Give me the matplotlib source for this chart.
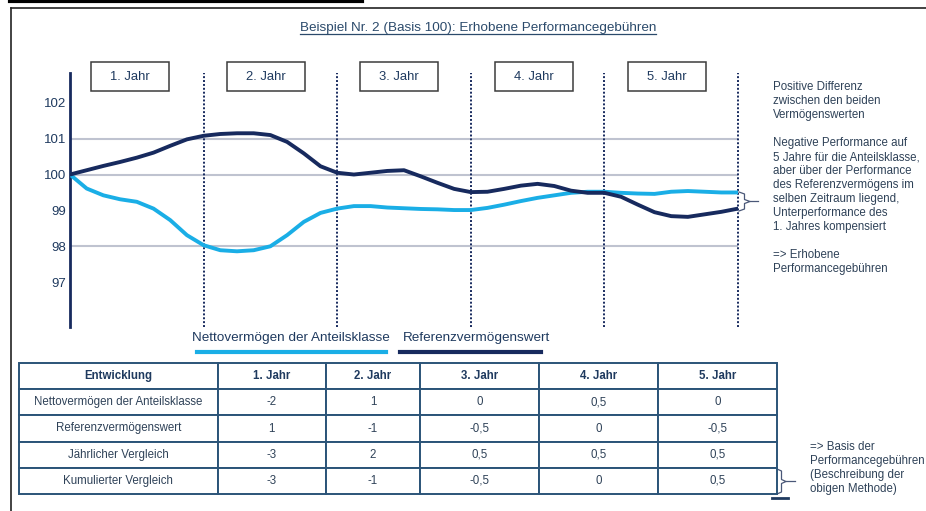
import numpy as np
import matplotlib.pyplot as plt
from matplotlib.patches import Rectangle
from matplotlib.lines import Line2D

plt.rcParams['font.family'] = ['Liberation Sans', 'DejaVu Sans']

# Data (basis 100), every 1/8 year
years = [0, 0.125, 0.25, 0.375, 0.5, 0.625, 0.75, 0.875,
         1, 1.125, 1.25, 1.375, 1.5, 1.625, 1.75, 1.875,
         2, 2.125, 2.25, 2.375, 2.5, 2.625, 2.75, 2.875,
         3, 3.125, 3.25, 3.375, 3.5, 3.625, 3.75, 3.875,
         4, 4.125, 4.25, 4.375, 4.5, 4.625, 4.75, 4.875, 5]
netto = [100.0, 99.61, 99.42, 99.31, 99.24, 99.05, 98.73, 98.31,
         98.03, 97.89, 97.86, 97.89, 98.0, 98.31, 98.68, 98.93,
         99.05, 99.12, 99.12, 99.08, 99.06, 99.04, 99.03, 99.01,
         99.01, 99.07, 99.16, 99.26, 99.35, 99.42, 99.49, 99.52,
         99.52, 99.49, 99.47, 99.46, 99.52, 99.54, 99.52, 99.5, 99.5]
referenz = [100.0, 100.12, 100.24, 100.35, 100.47, 100.61, 100.8, 100.98,
            101.08, 101.13, 101.15, 101.15, 101.1, 100.91, 100.59, 100.23,
            100.05, 100.0, 100.05, 100.1, 100.12, 99.95, 99.77, 99.6,
            99.51, 99.52, 99.6, 99.69, 99.74, 99.68, 99.55, 99.49,
            99.49, 99.38, 99.16, 98.95, 98.84, 98.82, 98.89, 98.96, 99.05]
year_labels = ["1. Jahr", "2. Jahr", "3. Jahr", "4. Jahr", "5. Jahr"]
y_ticks = [97, 98, 99, 100, 101, 102]
grid_levels = [98, 100, 101]

title = "Beispiel Nr. 2 (Basis 100): Erhobene Performancegebühren"
legend_labels = ["Nettovermögen der Anteilsklasse", "Referenzvermögenswert"]

note_right = ["Positive Differenz", "zwischen den beiden", "Vermögenswerten", "",
              "Negative Performance auf", "5 Jahre für die Anteilsklasse,",
              "aber über der Performance", "des Referenzvermögens im",
              "selben Zeitraum liegend,", "Unterperformance des",
              "1. Jahres kompensiert", "", "=> Erhobene", "Performancegebühren"]
note_table = ["=> Basis der", "Performancegebühren", "(Beschreibung der", "obigen Methode)"]

table_header = ["Entwicklung"] + year_labels
table_rows = [
    ["Nettovermögen der Anteilsklasse", "-2", "1", "0", "0,5", "0"],
    ["Referenzvermögenswert", "1", "-1", "-0,5", "0", "-0,5"],
    ["Jährlicher Vergleich", "-3", "2", "0,5", "0,5", "0,5"],
    ["Kumulierter Vergleich", "-3", "-1", "-0,5", "0", "0,5"],
]

# colours
c_light = "#1aaee6"
c_dark = "#172a5e"
c_grid = "#bfc3d0"
c_text = "#2f4258"
c_navy = "#1f3a5f"
c_table = "#2b5478"

W, H = 926, 511
fig = plt.figure(figsize=(W / 100, H / 100), dpi=100)

# overlay in pixel coordinates for frame, notes and boxes
ov = fig.add_axes([0, 0, 1, 1])
ov.set_xlim(0, W)
ov.set_ylim(H, 0)
ov.axis("off")

# frame
ov.add_line(Line2D([10, 362], [1, 1], color="black", lw=3))
ov.add_line(Line2D([11, W], [8, 8], color="#222222", lw=1.2))
ov.add_line(Line2D([11, 11], [8, H], color="#222222", lw=1.2))

# title with underline
t = ov.text(478, 28, title, ha="center", va="center", fontsize=9.7, color="#2b4a6b")
fig.canvas.draw()
bb = t.get_window_extent().transformed(ov.transData.inverted())
ov.add_line(Line2D([bb.x0, bb.x1], [bb.y0 + 0.5, bb.y0 + 0.5], color="#2b4a6b", lw=0.9))

# main chart
ax = fig.add_axes([70 / W, 1 - 327 / H, (738 - 70) / W, (327 - 73) / H])
ax.set_xlim(0, 5)
ax.set_ylim(95.75, 102.83)
for lv in grid_levels:
    ax.axhline(lv, color=c_grid, lw=1.5, zorder=1)
for x in range(1, 6):
    ax.axvline(x, color=c_dark, lw=1.4, ls=(0, (1, 1)), zorder=1, clip_on=False)
ax.plot(years, netto, color=c_light, lw=2.8, solid_joinstyle="round",
        solid_capstyle="round", zorder=3)
ax.plot(years, referenz, color=c_dark, lw=2.8, solid_joinstyle="round",
        solid_capstyle="round", zorder=4)

for side in ["top", "right", "bottom"]:
    ax.spines[side].set_visible(False)
ax.spines["left"].set_color(c_dark)
ax.spines["left"].set_linewidth(2)
ax.set_xticks([])
ax.set_yticks(y_ticks)
ax.tick_params(axis="y", length=0, pad=3, labelsize=9.5, labelcolor=c_navy)
ax.patch.set_alpha(0)

# year boxes
box_cx = [130, 265.5, 399, 533.5, 667]
for cx, lab in zip(box_cx, year_labels):
    ov.add_patch(Rectangle((cx - 39, 62), 78, 29, fill=False, ec="#3c3c3c", lw=1.1))
    ov.text(cx, 76.5, lab, ha="center", va="center", fontsize=9.4, color=c_navy)


def brace(x, y0, y1, w, tip, color):
    ym = (y0 + y1) / 2
    xs = [x, x + w * 0.5, x + w * 0.5, x + w, x + w * 0.5, x + w * 0.5, x]
    ys = [y0, y0 + 2, ym - 2, ym, ym + 2, y1 - 2, y1]
    ov.add_line(Line2D(xs, ys, color=color, lw=0.9))
    ov.add_line(Line2D([x + w, x + tip], [ym, ym], color=color, lw=0.9))


brace(739, 192, 211, 11, 19, "#4a5878")

for i, line in enumerate(note_right):
    if line:
        ov.text(773, 87 + 14 * i, line, ha="left", va="center", fontsize=8.3, color=c_text)

# legend
ov.text(291, 338, legend_labels[0], ha="center", va="center", fontsize=9.7, color=c_navy)
ov.text(477, 338, legend_labels[1], ha="center", va="center", fontsize=9.7, color=c_navy)
ov.add_line(Line2D([197, 386], [352, 352], color=c_light, lw=3))
ov.add_line(Line2D([400, 541], [352, 352], color=c_dark, lw=3))

# table in its own axes
tax = fig.add_axes([19 / W, 1 - 494 / H, (777 - 19) / W, (494 - 363) / H])
tax.axis("off")
col_w = np.array([199, 108, 95, 119, 119, 119], dtype=float)
tbl = tax.table(cellText=table_rows, colLabels=table_header,
                colWidths=list(col_w / col_w.sum()), cellLoc="center",
                bbox=[0, 0, 1, 1])
tbl.auto_set_font_size(False)
for (r, c), cell in tbl.get_celld().items():
    cell.set_edgecolor(c_table)
    cell.set_linewidth(1.4)
    cell.set_facecolor("white")
    txt = cell.get_text()
    txt.set_fontsize(8.3)
    if r == 0:
        txt.set_fontweight("bold")
        txt.set_color(c_navy)
    else:
        txt.set_color(c_text)

brace(777, 469, 494, 9, 18, "#4a5878")
ov.add_line(Line2D([772, 788], [498, 498], color=c_navy, lw=2))

for i, line in enumerate(note_table):
    ov.text(810, 447 + 14 * i, line, ha="left", va="center", fontsize=8.3, color=c_text)

fig.savefig("out.png", dpi=100)
